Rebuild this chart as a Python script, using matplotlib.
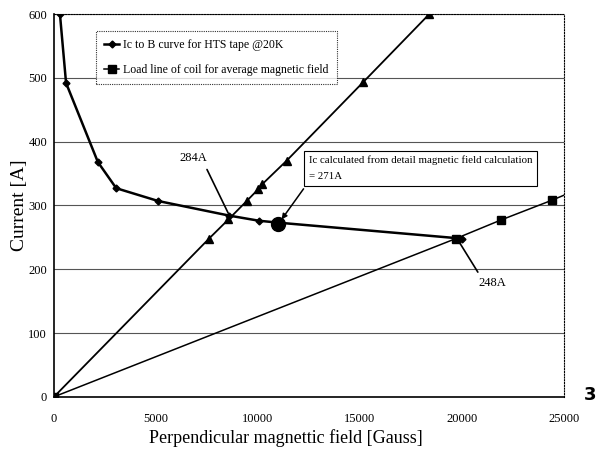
import numpy as np
import matplotlib
matplotlib.use("Agg")
import matplotlib.pyplot as plt

plt.rcParams['font.family'] = ['Liberation Serif', 'DejaVu Serif']

# Ic vs B curve for HTS tape @20K
ic_b = [290, 590, 2150, 3050, 5100, 8600, 10050, 11000, 20000]
ic_i = [600, 492, 368, 327, 307, 284, 276, 273, 248]

# load line for peak field (triangles)
peak_b = [0, 7600, 8550, 9450, 10000, 10200, 11400, 15150, 18400]
peak_i = [0, 248, 278, 307, 325, 333, 370, 493, 600]

# load line for average field (squares), last value where it leaves the axes
avg_b = [0, 19700, 21900, 24400, 25000]
avg_i = [0, 248, 277, 308, 316]

# detail calculation point
det_b = [11000]
det_i = [271]

fig = plt.figure(figsize=(6.07, 4.54), dpi=100)
ax = fig.add_axes([0.089, 0.126, 0.840, 0.843])

ax.plot(ic_b, ic_i, color='black', lw=1.8, marker='D', ms=3.5, zorder=4,
        label='Ic to B curve for HTS tape @20K')
ax.plot(avg_b, avg_i, color='black', lw=1.1, marker='s', ms=6, markevery=[0, 1, 2, 3],
        zorder=3, label='Load line of coil for average magnetic field')
ax.plot(peak_b, peak_i, color='black', lw=1.3, marker='^', ms=6, zorder=3)
ax.plot(det_b, det_i, 'o', color='black', ms=10, zorder=5)

ax.set_xlim(0, 25000)
ax.set_ylim(0, 600)
ax.set_xticks(np.arange(0, 25001, 5000))
ax.set_yticks(np.arange(0, 601, 100))
ax.tick_params(labelsize=9, length=0)
ax.tick_params(axis='x', pad=12)
ax.tick_params(axis='y', pad=5)
ax.grid(axis='y', color='#555555', lw=0.8)
ax.set_axisbelow(True)
for s in ['top', 'right']:
    ax.spines[s].set_linestyle((0, (1, 1.5)))
    ax.spines[s].set_linewidth(0.8)
for s in ['left', 'bottom']:
    ax.spines[s].set_linewidth(1.2)

ax.set_xlabel('Perpendicular magnettic field [Gauss]', fontsize=13)
ax.xaxis.set_label_coords(0.455, -0.085)
ax.set_ylabel('Current [A]', fontsize=14, labelpad=0)

leg = ax.legend(loc='upper left', bbox_to_anchor=(0.082, 0.956), borderaxespad=0,
                fontsize=8.5, frameon=True, fancybox=False, edgecolor='black',
                handlelength=1.3, handletextpad=0.3, borderpad=0.7, labelspacing=1.1)
leg.get_frame().set_linewidth(0.8)
leg.get_frame().set_linestyle((0, (1, 1)))

ax.annotate('284A', xy=(8600, 284), xytext=(6150, 374), fontsize=9,
            arrowprops=dict(arrowstyle='-', color='black', lw=1.2, relpos=(0.9, 0)),
            ha='left', va='center')
ax.annotate('248A', xy=(19800, 246), xytext=(20800, 178), fontsize=9,
            arrowprops=dict(arrowstyle='-', color='black', lw=1.2, relpos=(0.1, 1)),
            ha='left', va='center')
ax.annotate('Ic calculated from detail magnetic field calculation\n= 271A',
            xy=(11000, 271), xytext=(12500, 358), fontsize=7.8, ha='left', va='center',
            linespacing=2.0,
            bbox=dict(boxstyle='square,pad=0.45', fc='white', ec='black', lw=0.8),
            arrowprops=dict(arrowstyle='-|>', color='black', lw=1.1, shrinkB=4,
                            relpos=(0, 0)))

fig.text(0.972, 0.13, '3', fontsize=13, fontweight='bold', family='DejaVu Sans',
         ha='center', va='center')

fig.savefig('out.png', dpi=100)
